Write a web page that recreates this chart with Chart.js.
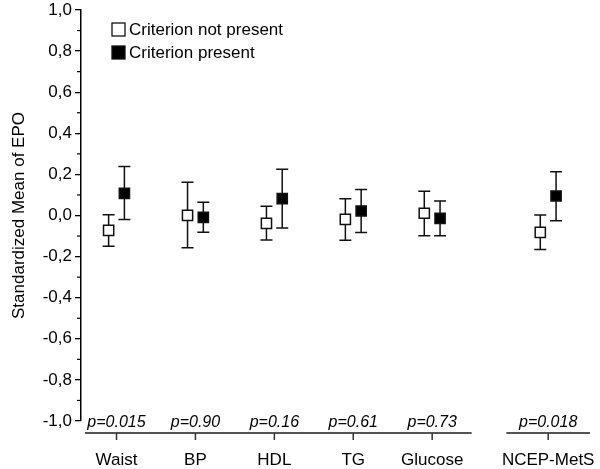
<!DOCTYPE html>
<html>
<head>
<meta charset="utf-8">
<script src="https://cdn.jsdelivr.net/npm/chart.js@4.4.0/dist/chart.umd.min.js"></script>
<style>
  html, body { margin: 0; padding: 0; background: #fff; }
  #wrap { width: 600px; height: 469px; }
</style>
</head>
<body>
<div id="wrap"><canvas id="epo"></canvas></div>
<script>
// categories and where they sit on the (broken) x axis
var categories = ['Waist', 'BP', 'HDL', 'TG', 'Glucose', 'NCEP-MetS'];
var categoryPos = [0, 1, 2, 3, 4, 5.47];
var pValues = ['p=0.015', 'p=0.90', 'p=0.16', 'p=0.61', 'p=0.73', 'p=0.018'];

// criterion not present (open squares)
var notPresentMean = [-0.072, 0.001, -0.038, -0.019, 0.011, -0.082];
var notPresentLow  = [-0.150, -0.157, -0.119, -0.121, -0.098, -0.165];
var notPresentHigh = [0.004, 0.162, 0.045, 0.082, 0.118, 0.002];

// criterion present (filled squares)
var presentMean = [0.108, -0.009, 0.082, 0.022, -0.014, 0.095];
var presentLow  = [-0.020, -0.082, -0.061, -0.083, -0.098, -0.025];
var presentHigh = [0.239, 0.064, 0.225, 0.127, 0.071, 0.213];

var minorTicks = [-0.9, -0.7, -0.5, -0.3, -0.1, 0.1, 0.3, 0.5, 0.7, 0.9];
var axisSegments = [[-0.4, 4.5], [4.94, 6.0]];

var FONT = "'Liberation Sans', Arial, Helvetica, sans-serif";
var SHIFT = 0.1;

function points(means, dir) {
  return means.map(function (m, i) { return { x: categoryPos[i] + dir * SHIFT, y: m }; });
}

var errorBars = {
  id: 'errorBars',
  beforeDatasetsDraw: function (chart) {
    var ctx = chart.ctx, xs = chart.scales.x, ys = chart.scales.y;
    var sets = [[notPresentLow, notPresentHigh, -1], [presentLow, presentHigh, 1]];
    ctx.save();
    ctx.strokeStyle = '#111';
    ctx.lineWidth = 1.5;
    sets.forEach(function (s) {
      for (var i = 0; i < categories.length; i++) {
        var px = xs.getPixelForValue(categoryPos[i] + s[2] * SHIFT);
        var lo = ys.getPixelForValue(s[0][i]);
        var hi = ys.getPixelForValue(s[1][i]);
        ctx.beginPath();
        ctx.moveTo(px, lo); ctx.lineTo(px, hi);
        ctx.moveTo(px - 6, lo); ctx.lineTo(px + 6, lo);
        ctx.moveTo(px - 6, hi); ctx.lineTo(px + 6, hi);
        ctx.stroke();
      }
    });
    ctx.restore();
  }
};

var axisExtras = {
  id: 'axisExtras',
  afterDraw: function (chart) {
    var ctx = chart.ctx, xs = chart.scales.x, ys = chart.scales.y;
    var area = chart.chartArea;
    var axisY = area.bottom + 12;
    ctx.save();
    // minor ticks on y axis
    ctx.strokeStyle = '#000';
    ctx.lineWidth = 1.2;
    minorTicks.forEach(function (v) {
      var py = ys.getPixelForValue(v);
      ctx.beginPath();
      ctx.moveTo(area.left - 4, py); ctx.lineTo(area.left, py);
      ctx.stroke();
    });
    // broken x axis
    ctx.strokeStyle = '#555';
    ctx.lineWidth = 2;
    axisSegments.forEach(function (seg) {
      ctx.beginPath();
      ctx.moveTo(xs.getPixelForValue(seg[0]), axisY);
      ctx.lineTo(xs.getPixelForValue(seg[1]), axisY);
      ctx.stroke();
    });
    ctx.textAlign = 'center';
    ctx.textBaseline = 'alphabetic';
    categories.forEach(function (c, i) {
      var px = xs.getPixelForValue(categoryPos[i]);
      ctx.strokeStyle = '#333';
      ctx.lineWidth = 1.5;
      ctx.beginPath();
      ctx.moveTo(px, axisY); ctx.lineTo(px, axisY + 7);
      ctx.stroke();
      ctx.fillStyle = '#000';
      ctx.font = 'italic 16px ' + FONT;
      ctx.fillText(pValues[i], px, area.bottom + 6);
      ctx.font = '17px ' + FONT;
      ctx.fillText(c, px, area.bottom + 44);
    });
    // legend
    var rows = [['Criterion not present', '#fff'], ['Criterion present', '#000']];
    ctx.textAlign = 'left';
    ctx.textBaseline = 'middle';
    ctx.font = '17px ' + FONT;
    rows.forEach(function (r, k) {
      var cy = 29 + k * 23;
      ctx.fillStyle = r[1];
      ctx.fillRect(112, cy - 6, 13, 13);
      ctx.strokeStyle = '#111';
      ctx.lineWidth = 1.3;
      ctx.strokeRect(112, cy - 6, 13, 13);
      ctx.fillStyle = '#000';
      ctx.fillText(r[0], 129, cy + 1);
    });
    ctx.restore();
  }
};

new Chart(document.getElementById('epo'), {
  type: 'scatter',
  data: {
    datasets: [{
      label: 'Criterion not present',
      data: points(notPresentMean, -1),
      pointStyle: 'rect',
      pointRadius: 7.2,
      pointHoverRadius: 7.2,
      backgroundColor: '#fff',
      borderColor: '#111',
      borderWidth: 1.5
    }, {
      label: 'Criterion present',
      data: points(presentMean, 1),
      pointStyle: 'rect',
      pointRadius: 7.2,
      pointHoverRadius: 7.2,
      backgroundColor: '#000',
      borderColor: '#111',
      borderWidth: 1.5
    }]
  },
  options: {
    responsive: true,
    maintainAspectRatio: false,
    animation: false,
    layout: { padding: { top: 0, right: 10, bottom: 48, left: 0 } },
    scales: {
      x: { type: 'linear', min: -0.45, max: 6.0, display: false },
      y: {
        min: -1, max: 1,
        ticks: {
          stepSize: 0.2,
          color: '#000',
          padding: 3,
          font: { size: 17, family: FONT },
          callback: function (v) {
            if (Math.abs(v) < 1e-9) v = 0;
            return v.toFixed(1).replace('.', ',');
          }
        },
        grid: { drawOnChartArea: false, tickLength: 6, color: '#000', lineWidth: 1.3 },
        border: { color: '#000', width: 1.5 },
        title: {
          display: true,
          text: 'Standardized Mean of EPO',
          color: '#000',
          font: { size: 17, family: FONT },
          padding: { top: 9, bottom: 0 }
        },
        afterFit: function (s) { s.width = 81; s.paddingTop = 10; }
      }
    },
    plugins: {
      legend: { display: false },
      tooltip: { enabled: false }
    }
  },
  plugins: [errorBars, axisExtras]
});
</script>
</body>
</html>
